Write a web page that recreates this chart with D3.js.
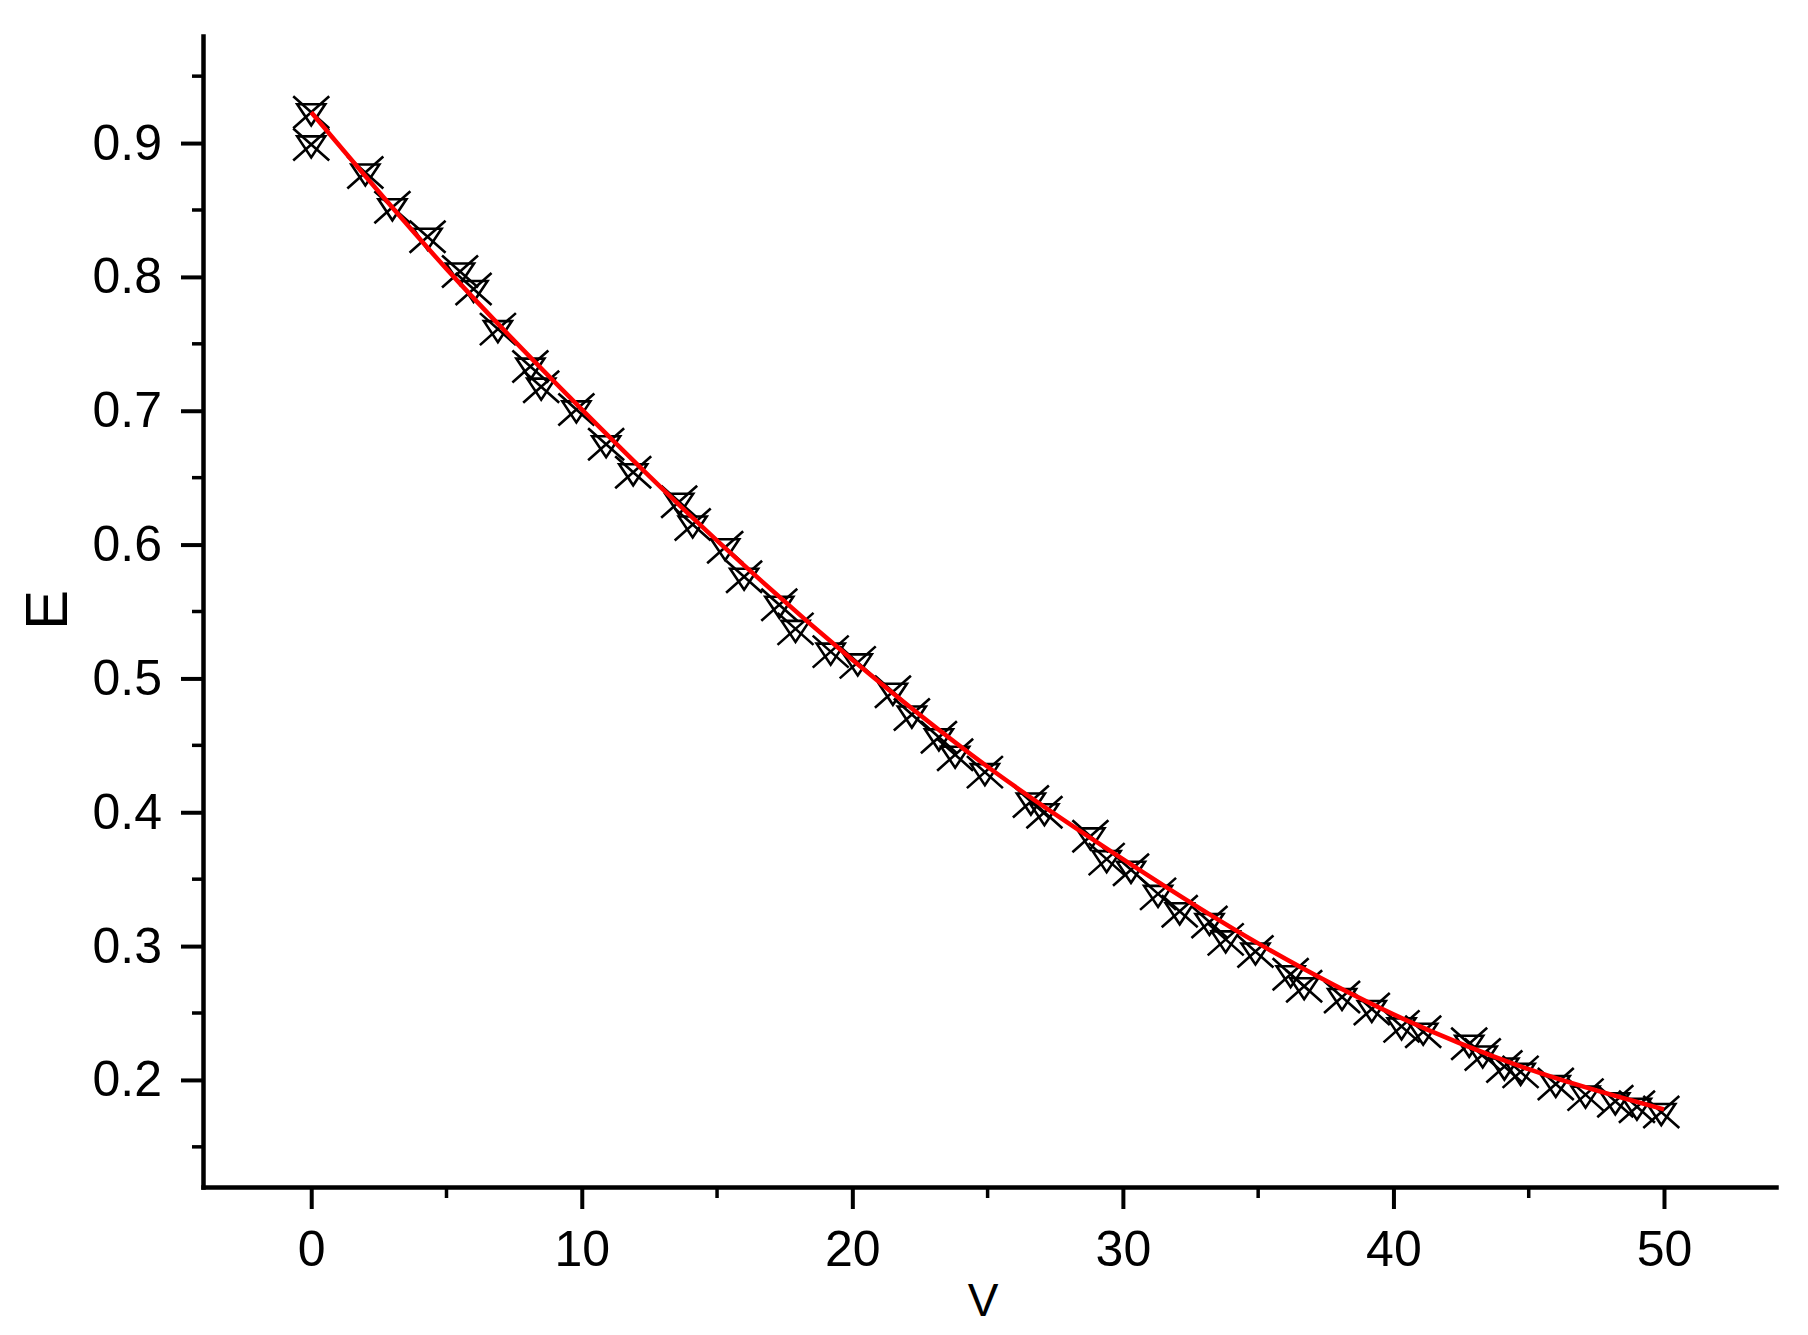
<!DOCTYPE html>
<html>
<head>
<meta charset="utf-8">
<script src="https://cdn.jsdelivr.net/npm/d3@7"></script>
<style>
  html, body { margin: 0; padding: 0; background: #ffffff; }
  svg { display: block; }
  text { font-family: "Liberation Sans", Arial, sans-serif; fill: #000; }
</style>
</head>
<body>
<div id="chart"></div>
<script>
// ---- Data ----
const pointV = [0, 0, 2.0, 3.0, 4.3, 5.5, 6.0, 6.9, 8.1, 8.5, 9.8, 10.9, 11.9, 13.6, 14.1, 15.3, 16.0,
  17.3, 17.9, 19.2, 20.2, 21.5, 22.2, 23.2, 23.8, 24.9, 26.6, 27.1, 28.8, 29.4, 30.3, 31.3, 32.1,
  33.2, 33.8, 34.9, 36.2, 36.7, 38.1, 39.2, 40.3, 41.1, 42.8, 43.3, 44.1, 44.7, 46.0, 47.1, 48.2, 49.0, 49.9];
const pointE = [0.923, 0.899, 0.878, 0.852, 0.830, 0.804, 0.791, 0.761, 0.733, 0.718, 0.701, 0.675, 0.654, 0.632, 0.615, 0.598, 0.576,
  0.555, 0.537, 0.520, 0.512, 0.490, 0.473, 0.456, 0.443, 0.430, 0.408, 0.400, 0.382, 0.365, 0.357, 0.339, 0.326,
  0.318, 0.305, 0.296, 0.279, 0.270, 0.262, 0.253, 0.240, 0.236, 0.227, 0.219, 0.210, 0.206, 0.197, 0.189, 0.184, 0.180, 0.176];

const fitV = [0, 5, 10, 15, 20, 25, 30, 35, 40, 45, 50];
const fitE = [0.923, 0.806, 0.701, 0.603, 0.514, 0.434, 0.365, 0.302, 0.249, 0.208, 0.178];

const xTickValues = [0, 10, 20, 30, 40, 50];
const xMinorValues = [5, 15, 25, 35, 45];
const yTickValues = [0.2, 0.3, 0.4, 0.5, 0.6, 0.7, 0.8, 0.9];
const yMinorValues = [0.15, 0.25, 0.35, 0.45, 0.55, 0.65, 0.75, 0.85, 0.95];
const xTitle = "V";
const yTitle = "E";

// ---- Layout ----
const W = 1808, H = 1335;
const svg = d3.select("#chart").append("svg").attr("width", W).attr("height", H);
svg.append("rect").attr("width", W).attr("height", H).attr("fill", "#fff");

const x = d3.scaleLinear().domain([-4, 54.14]).range([203, 1776]);
const y = d3.scaleLinear().domain([0.12, 0.98]).range([1187, 36]);

// ---- Markers (down-triangle + cross) ----
const pts = pointV.map((v, i) => ({ v, e: pointE[i] }));
const mk = svg.append("g").attr("fill", "none").attr("stroke", "#000").attr("stroke-width", 2.6);
const g = mk.selectAll("g.m").data(pts).join("g").attr("class", "m")
  .attr("transform", d => `translate(${x(d.v)},${y(d.e)})`);
g.append("path").attr("d", "M-14,-8L14,-8L0,13Z").attr("stroke-linejoin", "miter");
g.append("path").attr("d", "M-18,-16L18,16M-18,16L18,-16");

// ---- Fit curve ----
const fit = fitV.map((v, i) => ({ v, e: fitE[i] }));
svg.append("path").datum(fit)
  .attr("fill", "none").attr("stroke", "#ff0000").attr("stroke-width", 4.5)
  .attr("d", d3.line().x(d => x(d.v)).y(d => y(d.e)).curve(d3.curveMonotoneX));

// ---- Axes ----
const fontSize = 50;
const xAxis = svg.append("g").attr("transform", "translate(0,1187)")
  .call(d3.axisBottom(x).tickValues(xTickValues).tickFormat(d3.format("d")).tickSize(22).tickPadding(21).tickSizeOuter(0));
xAxis.append("g").selectAll("line").data(xMinorValues).join("line")
  .attr("x1", d => x(d)).attr("x2", d => x(d)).attr("y1", 0).attr("y2", 11)
  .attr("stroke", "#000").attr("stroke-width", 3.5);

const yAxis = svg.append("g").attr("transform", "translate(203,0)")
  .call(d3.axisLeft(y).tickValues(yTickValues).tickFormat(d3.format(".1f")).tickSize(22).tickPadding(19).tickSizeOuter(0));
yAxis.append("g").selectAll("line").data(yMinorValues).join("line")
  .attr("y1", d => y(d)).attr("y2", d => y(d)).attr("x1", 0).attr("x2", -11)
  .attr("stroke", "#000").attr("stroke-width", 3.5);

[xAxis, yAxis].forEach(a => {
  a.select(".domain").attr("stroke", "#000").attr("stroke-width", 4.5).attr("stroke-linecap", "square");
  a.selectAll(".tick line").attr("stroke", "#000").attr("stroke-width", 4);
  a.selectAll(".tick text").attr("font-size", fontSize)
    .attr("font-family", "'Liberation Sans', Arial, sans-serif").attr("fill", "#000");
});

// ---- Titles ----
svg.append("text").attr("x", 983).attr("y", 1316).attr("text-anchor", "middle")
  .attr("font-size", 46).text(xTitle);
svg.append("text").attr("transform", "translate(46,610) rotate(-90)")
  .attr("text-anchor", "middle").attr("dominant-baseline", "central")
  .attr("font-size", 60).text(yTitle);
</script>
</body>
</html>
